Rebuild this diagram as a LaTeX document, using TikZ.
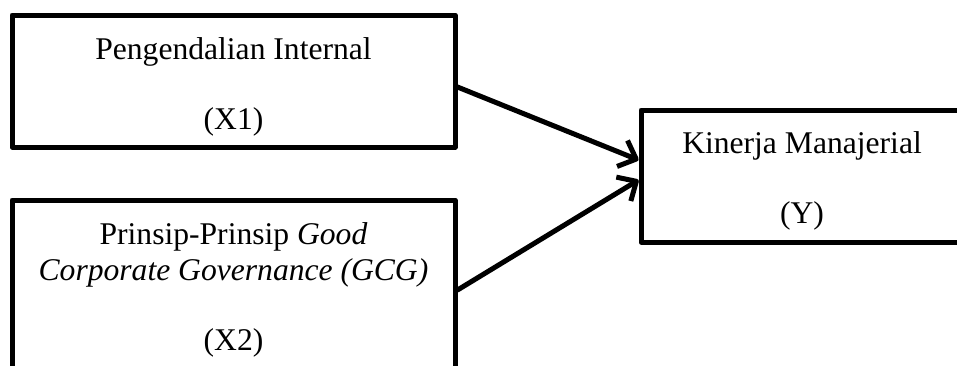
\documentclass[tikz,border=0pt]{standalone}
\usepackage{fontspec}
\setmainfont{Liberation Serif}
\usetikzlibrary{arrows.meta}
\tikzset{
  varbox/.style={draw,line width=2.5pt,line join=round,align=center,
    font=\fontsize{15.8pt}{17.5pt}\selectfont},
  panah/.style={line width=2.5pt,line cap=round,
    -{Straight Barb[length=7.5pt,width=14pt,line join=round]}}
}
\begin{document}
\begin{tikzpicture}[x=0.5pt,y=-0.5pt]
\clip (0,0) rectangle (957,365);
\node[varbox,minimum width=221.5pt,minimum height=66pt] (x1) at (233.5,81) {\rule{0pt}{17pt}Pengendalian Internal\\[\baselineskip](X1)};
\node[varbox,minimum width=221.5pt,minimum height=90pt] (x2) at (233.5,290) {Prinsip-Prinsip \textit{Good}\\[0.5pt]\textit{Corporate Governance (GCG)}\\[\baselineskip](X2)};
\node[varbox,minimum width=161pt,minimum height=66pt] (y) at (802,176) {\rule{0pt}{16pt}Kinerja Manajerial\\[\baselineskip](Y)};
\draw[panah] ([yshift=-3pt]x1.east) -- ([yshift=8pt]y.west);
\draw[panah] (x2.east) -- ([yshift=-2pt]y.west);
\end{tikzpicture}
\end{document}
